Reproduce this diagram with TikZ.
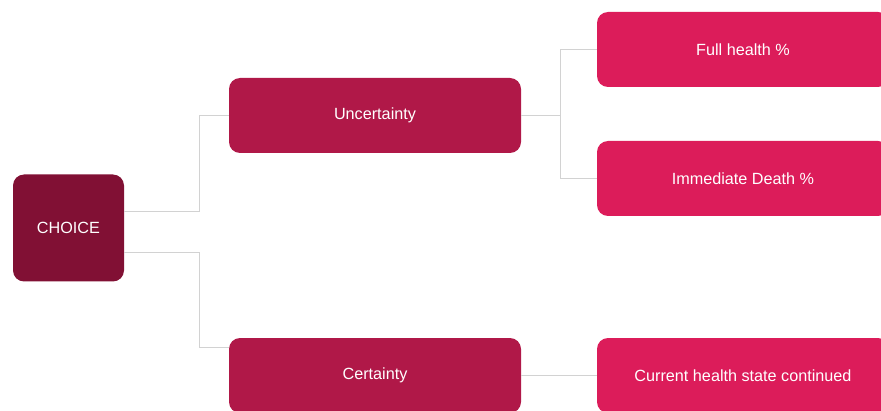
\documentclass[tikz,border=0pt]{standalone}
\usepackage{fontspec}
\setmainfont{Liberation Sans}
\definecolor{choicered}{HTML}{811034}
\definecolor{branchred}{HTML}{B01848}
\definecolor{leafpink}{HTML}{DC1C5A}
\definecolor{linegrey}{HTML}{D2D2D2}
\begin{document}
\begin{tikzpicture}[x=1pt,y=1pt,
    box/.style={rounded corners=11pt, text=white, inner sep=0pt,
      minimum width=292pt, minimum height=75pt,
      font=\fontsize{16.2}{19}\selectfont},
    link/.style={draw=linegrey, line width=1pt}]
    \useasboundingbox (0,0) rectangle (881,410);

    \node [box, fill=choicered, minimum width=111pt, minimum height=107pt] (choice) at (68.5,182) {CHOICE};

    \node [box, fill=branchred] (uncert) at (375,294.5) {Uncertainty};
    \node [box, fill=branchred] (cert) at (375,34.5) {Certainty};

    \node [box, fill=leafpink] (full) at (743,360.5) {Full health \%};
    \node [box, fill=leafpink] (death) at (743,231.5) {Immediate Death \%};
    \node [box, fill=leafpink] (current) at (743,34.5) {Current health state continued};

    \draw[link] ([yshift=16pt]choice.east) -- ++(75,0) |- (uncert.west);
    \draw[link] ([yshift=-25pt]choice.east) -- ++(75,0) |- ([yshift=28.5pt]cert.west);

    \draw[link] (uncert.east) -- ++(39,0) coordinate (split);
    \draw[link] (split) |- (full.west);
    \draw[link] (split) |- (death.west);

    \draw[link] (cert.east) -- (current.west);
\end{tikzpicture}
\end{document}
